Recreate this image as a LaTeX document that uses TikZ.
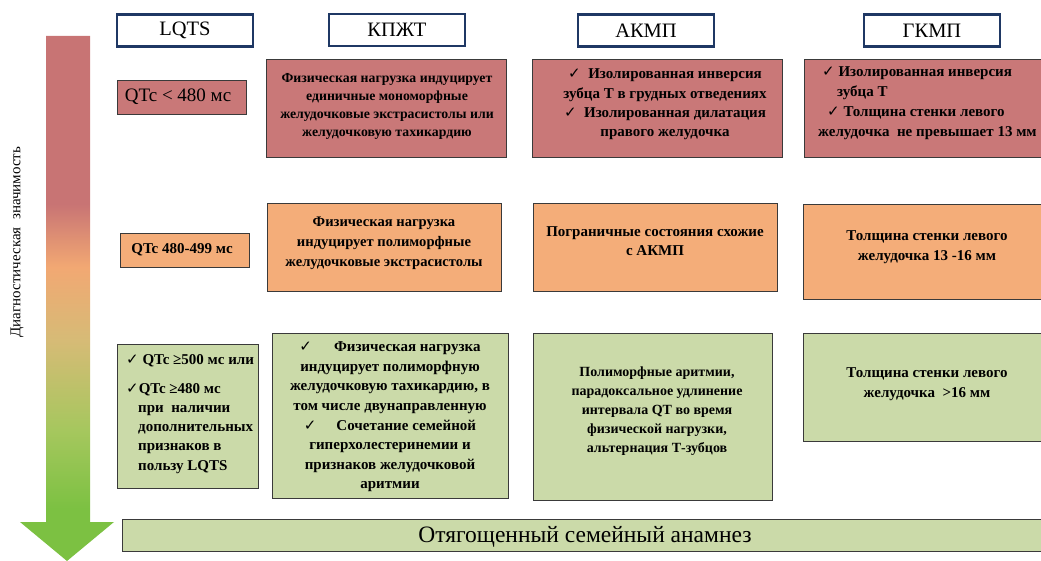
\documentclass[tikz,border=0pt]{standalone}
\usepackage{fontspec}
\setmainfont{Liberation Serif}
\newfontfamily\symfont{DejaVu Sans}
\usepackage{xcolor}
\usepackage{tikz}
\usetikzlibrary{positioning}
\definecolor{hdrblue}{HTML}{1F3864}
\definecolor{boxedge}{HTML}{3A3A3A}
\definecolor{rosefill}{HTML}{C97878}
\definecolor{orangefill}{HTML}{F4AD79}
\definecolor{greenfill}{HTML}{CBDAA9}
\definecolor{arrowrose}{HTML}{C87474}
\definecolor{arroworange}{HTML}{F2A873}
\definecolor{arrowtan}{HTML}{D6BB76}
\definecolor{arrowlime}{HTML}{A6C75E}
\definecolor{arrowgreen}{HTML}{7CC142}
\pgfdeclareverticalshading{sigshade}{100bp}{%
  color(0bp)=(arrowgreen); color(30bp)=(arrowgreen);
  color(37.5bp)=(arrowlime); color(46bp)=(arrowtan);
  color(53bp)=(arroworange); color(59bp)=(arrowrose);
  color(100bp)=(arrowrose)}
\newcommand{\chk}{{\symfont\mdseries ✓}}
\newcommand{\fsz}[2]{\fontsize{#1}{#2}\selectfont\bfseries}
\tikzset{
  % ---- column headers -------------------------------------------------
  hdr/.style={
    draw=hdrblue, line width=2.6pt, fill=white,
    minimum width=136, minimum height=32, inner sep=0pt,
    font=\fontsize{20.5}{22}\selectfont},
  % ---- coloured boxes -------------------------------------------------
  sbox/.style={
    draw=boxedge, line width=1.2pt, anchor=north west, inner sep=0pt},
  rosebox/.style={sbox, fill=rosefill},
  orangebox/.style={sbox, fill=orangefill},
  greenbox/.style={sbox, fill=greenfill},
  % ---- texts ----------------------------------------------------------
  btext/.style={align=center, inner sep=0pt, font=\fsz{15}{19.5}},
  ltext/.style={btext, align=left, anchor=north west},
  sidelabel/.style={rotate=90, inner sep=0pt,
    font=\fontsize{15}{16}\selectfont},
}

\begin{document}
\begin{tikzpicture}[x=1pt, y=-1pt]

\clip (0,0) rectangle (1041,561);

% ---- gradient arrow --------------------------------------------------
\shade[shading=sigshade] (46,36) -- (90,36) -- (90,522) -- (114,522)
  -- (67,561) -- (20,522) -- (46,522) -- cycle;
\node[sidelabel] (signif) at (17,242) {Диагностическая \ значимость};

% ---- headers ---------------------------------------------------------
\node[hdr] (hLQTS) at (185,30.5) {LQTS};
\node[hdr] (hKPJT) at (397,30)   {КПЖТ};
\node[hdr] (hAKMP) at (646,30.5) {АКМП};
\node[hdr] (hGKMP) at (932,30.5) {ГКМП};

% ---- row 1: rose -----------------------------------------------------
\node[rosebox, minimum width=129, minimum height=34]  (lq1) at (117,80) {};
\node[rosebox, minimum width=240, minimum height=98]  (kp1) at (266,59) {};
\node[rosebox, minimum width=250, minimum height=98]  (ak1) at (532,59) {};
\node[rosebox, minimum width=260, minimum height=98]  (gk1) at (804,59) {};

\node[btext, font=\fontsize{19}{22}\selectfont] (lq1t) at (178,97)
  {QTc < 480 мс};
\node[btext, font=\fsz{13.8}{18}] (kp1t) at (387,106)
  {Физическая нагрузка индуцирует\\единичные мономорфные\\
   желудочковые экстрасистолы или\\желудочковую тахикардию};
\node[btext, font=\fsz{15}{19.3}] (ak1t) at (665,104.5)
  {\chk\ \ Изолированная инверсия\\зубца Т в грудных отведениях\\
   \chk\ \ Изолированная дилатация\\правого желудочка};
\node[ltext, font=\fsz{15}{20}] (gk1t) at (818,66)
  {\hspace*{4pt}\chk\ Изолированная инверсия\\\hspace*{19pt}зубца Т\\
   \hspace*{9pt}\chk\ Толщина стенки левого\\желудочка \ не превышает 13 мм};

% ---- row 2: orange ---------------------------------------------------
\node[orangebox, minimum width=129, minimum height=34] (lq2) at (120,233) {};
\node[orangebox, minimum width=234, minimum height=88] (kp2) at (267,203) {};
\node[orangebox, minimum width=244, minimum height=88] (ak2) at (533,203) {};
\node[orangebox, minimum width=260, minimum height=95] (gk2) at (803,204) {};

\node[btext] (lq2t) at (182,249.5) {QTc 480-499 мс};
\node[btext, font=\fsz{14.6}{20}] (kp2t) at (384,243.5)
  {Физическая нагрузка\\индуцирует полиморфные\\желудочковые экстрасистолы};
\node[btext, font=\fsz{15}{19.5}] (ak2t) at (655,241)
  {Пограничные состояния схожие\\с АКМП};
\node[btext, font=\fsz{15}{19.5}] (gk2t) at (927,247)
  {Толщина стенки левого\\желудочка 13 -16 мм};

% ---- row 3: green ----------------------------------------------------
\node[greenbox, minimum width=141, minimum height=144] (lq3) at (117,344) {};
\node[greenbox, minimum width=236, minimum height=165] (kp3) at (272,333) {};
\node[greenbox, minimum width=239, minimum height=167] (ak3) at (533,333) {};
\node[greenbox, minimum width=260, minimum height=108] (gk3) at (803,333) {};

\node[ltext, font=\fsz{15}{19.2}] (lq3t) at (126,354)
  {\chk\ QTc ≥500 мс или\\[10pt]
   \chk QTc ≥480 мс\\
   \hspace*{12pt}при \ наличии\\
   \hspace*{12pt}дополнительных\\
   \hspace*{12pt}признаков в\\
   \hspace*{12pt}пользу LQTS};
\node[btext, font=\fsz{15}{19.6}] (kp3t) at (390,417)
  {\chk\hspace*{22pt}Физическая нагрузка\\индуцирует полиморфную\\
   желудочковую тахикардию, в\\том числе двунаправленную\\
   \chk\hspace*{20pt}Сочетание семейной\\гиперхолестеринемии и\\
   признаков желудочковой\\аритмии};
\node[btext, font=\fsz{14}{19}] (ak3t) at (657,411.5)
  {Полиморфные аритмии,\\парадоксальное удлинение\\интервала QT во время\\
   физической нагрузки,\\альтернация Т-зубцов};
\node[btext, font=\fsz{15}{19.5}] (gk3t) at (927,384)
  {Толщина стенки левого\\желудочка \ >16 мм};

% ---- family history bar ----------------------------------------------
\node[greenbox, minimum width=930, minimum height=32] (fam) at (122,519) {};
\node[btext, font=\fontsize{23.5}{26}\selectfont] (famt) at (585,537)
  {Отягощенный семейный анамнез};

\end{tikzpicture}
\end{document}
